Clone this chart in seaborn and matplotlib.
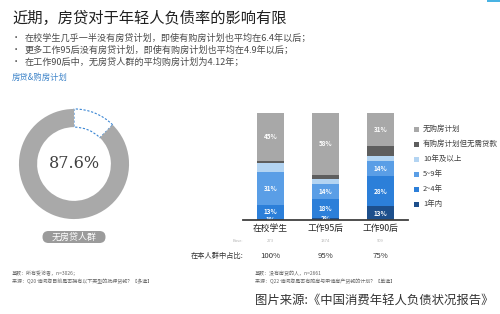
import numpy as np
import pandas as pd
import seaborn as sns
import matplotlib.pyplot as plt
from matplotlib.patches import Rectangle, FancyBboxPatch
from matplotlib.transforms import blended_transform_factory

sns.set_theme(style="white")
plt.rcParams['font.family'] = ['Noto Sans CJK SC', 'DejaVu Sans']

# ---------------- data ----------------
categories = ["在校学生", "工作95后", "工作90后"]
segments = ["1年内", "2~4年", "5~9年", "10年及以上", "有购房计划但无需贷款", "无购房计划"]
v_1y = [1, 2, 13]
v_2_4 = [13, 18, 28]
v_5_9 = [31, 14, 14]
v_10plus = [8, 4, 5]
v_noloan = [2, 4, 9]
v_noplan = [45, 58, 31]
base_n = ["273", "1374", "909"]
share_in_group = ["100%", "95%", "75%"]
no_mortgage_pct = 87.6

title = "近期，房贷对于年轻人负债率的影响有限"
bullets = ["在校学生几乎一半没有房贷计划，即使有购房计划也平均在6.4年以后；",
           "更多工作95后没有房贷计划，即使有购房计划也平均在4.9年以后；",
           "在工作90后中，无房贷人群的平均购房计划为4.12年；"]

colors = ["#1d4f8c", "#2c7fd9", "#5a9ee6", "#b3d4f2", "#5e5e5e", "#a8a8a8"]
labelled = [True, True, True, False, False, True]

W, H = 500, 314
fig = plt.figure(figsize=(W / 100, H / 100), dpi=100)
fig.patch.set_facecolor("white")

# ---------------- stacked bars ----------------
ax = fig.add_axes([243 / W, 1 - 220 / H, 165 / W, 107.3 / H])
series = np.array([v_1y, v_2_4, v_5_9, v_10plus, v_noloan, v_noplan], dtype=float)
cum = np.cumsum(series, axis=0)
for i in reversed(range(len(segments))):
    d = pd.DataFrame({"cat": categories, "top": cum[i]})
    sns.barplot(data=d, x="cat", y="top", order=categories, color=colors[i],
                saturation=1, width=0.49, errorbar=None, linewidth=0, ax=ax)
for i in range(len(segments)):
    if not labelled[i]:
        continue
    for j in range(len(categories)):
        mid = cum[i][j] - series[i][j] / 2
        ax.text(j, mid, f"{int(series[i][j])}%", ha="center", va="center",
                fontsize=4.6, color="white", fontweight="bold", zorder=5)
ax.set_xlim(-0.5, 2.5)
ax.set_ylim(0, 100)
ax.set_xlabel("")
ax.set_ylabel("")
ax.set_yticks([])
for s in ["top", "right", "left"]:
    ax.spines[s].set_visible(False)
ax.spines["bottom"].set_color("#404040")
ax.spines["bottom"].set_linewidth(1.3)
ax.spines["bottom"].set_zorder(6)
ax.tick_params(axis="x", length=0, pad=3, labelsize=6.3, labelcolor="#262626")
ax.patch.set_alpha(0)

# ---------------- donut ----------------
axd = fig.add_axes([(74 - 60) / W, 1 - (164 + 60) / H, 120 / W, 120 / H])
wedges, _ = axd.pie([100 - no_mortgage_pct, no_mortgage_pct], startangle=90,
                    counterclock=False, colors=["white", "#a9a9a9"],
                    wedgeprops=dict(width=0.33, linewidth=0))
wedges[0].set_edgecolor("#3a86d4")
wedges[0].set_linestyle((0, (2, 1.5)))
wedges[0].set_linewidth(0.8)
axd.set_xlim(-1.09, 1.09)
axd.set_ylim(-1.09, 1.09)
axd.set_aspect("equal")
axd.axis("off")
axd.text(0, 0, f"{no_mortgage_pct}%", ha="center", va="center", fontsize=11.5,
         family="DejaVu Serif", color="#404040")

# ---------------- overlay (pixel coordinates) ----------------
ov = fig.add_axes([0, 0, 1, 1])
ov.set_xlim(0, W)
ov.set_ylim(H, 0)
ov.axis("off")
ov.set_zorder(5)

ov.add_patch(Rectangle((487, 0), 13, 2, fc="#49b3e3", ec="none"))
ov.text(12, 18, title, fontsize=11, va="center", ha="left", color="#1f1f1f")
for k, b in enumerate(bullets):
    y = 38 + 12 * k
    ov.text(12, y, "•", fontsize=6, va="center", ha="left", color="#404040")
    ov.text(25, y, b, fontsize=6.55, va="center", ha="left", color="#4a4a4a")
ov.text(12, 77, "房贷&购房计划", fontsize=6, va="center", ha="left", color="#3b82c8")

ov.add_patch(FancyBboxPatch((42.5, 231), 63, 12,
                            boxstyle="round,pad=0,rounding_size=6",
                            fc="#9b9b9b", ec="none"))
ov.text(74, 237, "无房贷人群", fontsize=6.5, ha="center", va="center", color="white")

ov.text(12, 273, "基数：所有受访者，n=3026；", fontsize=3.6, va="center", color="#666666")
ov.text(12, 281, "来源：Q20 请问您目前是否拥有以下类型的抵押贷款？【多选】", fontsize=3.6,
        va="center", color="#666666")
ov.text(255, 273, "基数：没有房贷的人，n=2661", fontsize=3.6, va="center", color="#666666")
ov.text(255, 281, "来源：Q22 请问您是否有购房与申请房产贷款的计划？【单选】", fontsize=3.6,
        va="center", color="#666666")

ov.text(255, 300, "图片来源:《中国消费年轻人负债状况报告》", fontsize=8.9, va="center",
        ha="left", color="#333333")

# base row and share row aligned with bar positions
bt = blended_transform_factory(ax.transData, ov.transData)
ov.text(238, 241, "Base:", fontsize=3, va="center", ha="center", color="#b5b5b5")
for j in range(len(categories)):
    ax.text(j, 241, base_n[j], transform=bt, fontsize=3, ha="center", va="center",
            color="#b5b5b5")
    ax.text(j, 256, share_in_group[j], transform=bt, fontsize=5.6, ha="center",
            va="center", color="#333333", style="italic")
ov.text(243, 256, "在本人群中占比:", fontsize=5.2, ha="right", va="center",
        color="#333333", style="italic")

# legend (top to bottom: reverse stacking order)
for k, i in enumerate(reversed(range(len(segments)))):
    y = 129 + 15 * k
    ov.add_patch(Rectangle((414, y - 2.5), 5, 5, fc=colors[i], ec="none"))
    ov.text(423, y, segments[i], fontsize=5.4, va="center", ha="left", color="#404040")

fig.savefig("out.png", dpi=100)
